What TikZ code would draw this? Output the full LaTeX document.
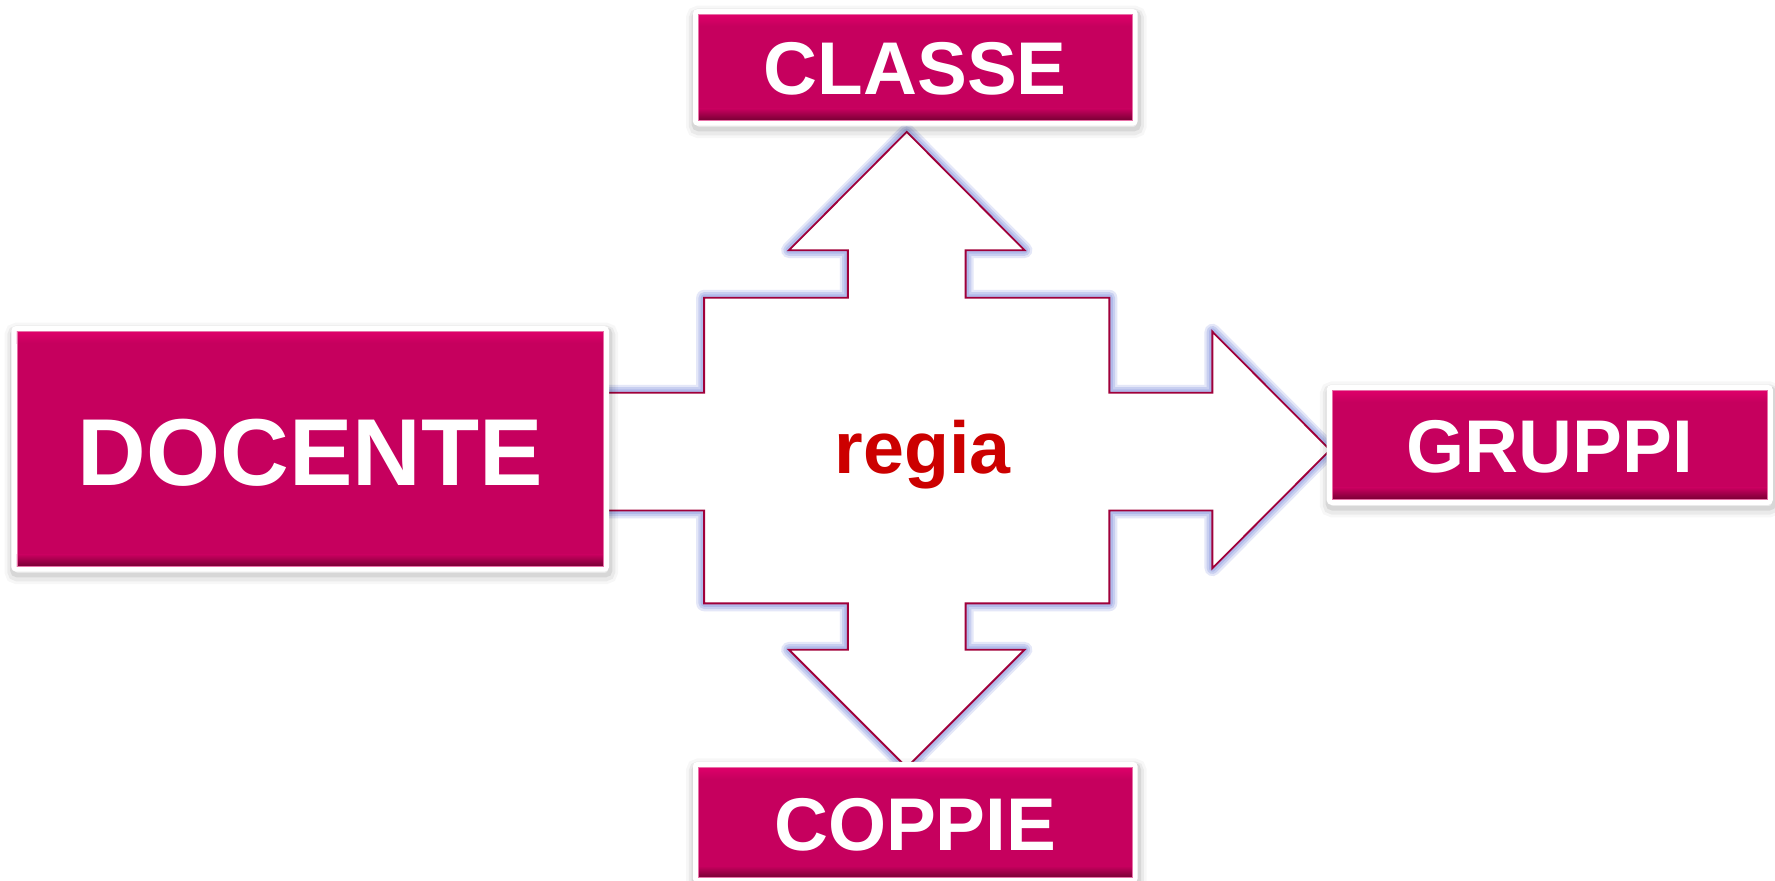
\documentclass[tikz,border=0pt]{standalone}
\usepackage{fontspec}
\setmainfont{Liberation Sans}
\usetikzlibrary{calc}
\definecolor{magbase}{HTML}{C6005E}
\definecolor{magtop}{HTML}{DE0069}
\definecolor{magbot}{HTML}{7A0035}
\definecolor{magedge}{HTML}{E870A8}
\definecolor{regiared}{HTML}{CC0000}
\definecolor{arrline}{HTML}{A0003A}
\definecolor{glowblue}{HTML}{A8B2E8}
\newcommand\tilefill{%
  \path (path picture bounding box.north west) ++(5pt,-5pt) coordinate (tnw);
  \path (path picture bounding box.south east) ++(-5pt,5pt) coordinate (tse);
  \fill[magbase, sharp corners] (tnw) rectangle (tse);
  \shade[top color=magtop, bottom color=magbase, sharp corners] (tnw) rectangle ($(tse|-tnw)+(0pt,-10pt)$);
  \shade[top color=magbase, bottom color=magbot, sharp corners] ($(tnw|-tse)+(0pt,10pt)$) rectangle (tse);
  \draw[magedge, line width=0.8pt, sharp corners] (tnw) rectangle (tse);
}
\newcommand\arrowpath{(530,347) -- (622,347) -- (622,263) -- (749,263) -- (749,221) -- (697,221) -- (801,116.5) -- (905,221) -- (853,221) -- (853,263) -- (980,263) -- (980,347) -- (1071,347) -- (1071,293) -- (1175,397.5) -- (1071,502) -- (1071,451) -- (980,451) -- (980,533) -- (853,533) -- (853,574) -- (905,574) -- (801,678) -- (697,574) -- (749,574) -- (749,533) -- (622,533) -- (622,451) -- (530,451) -- cycle}
\tikzset{
  tile/.style={fill=white, rounded corners=4pt, inner sep=0pt, outer sep=0pt,
    preaction={draw=black, line width=14pt, draw opacity=0.03, transform canvas={xshift=1pt,yshift=-4pt}},
    preaction={draw=black, line width=9pt, draw opacity=0.05, transform canvas={xshift=1pt,yshift=-4pt}},
    preaction={draw=black, line width=4pt, draw opacity=0.08, transform canvas={xshift=1pt,yshift=-3pt}},
    path picture={\tilefill}},
  tilelabel/.style={text=white, font=\bfseries\fontsize{66}{70}\selectfont, anchor=base, inner sep=0pt},
  biglabel/.style={tilelabel, font=\bfseries\fontsize{84}{90}\selectfont},
  regialabel/.style={text=regiared, font=\bfseries\fontsize{65}{70}\selectfont, anchor=base, inner sep=0pt},
  glow/.style={draw=glowblue, line join=round},
  arrowbody/.style={draw=arrline, line width=1.6pt, fill=white, line join=miter,
    preaction={glow, line width=14pt, draw opacity=0.3},
    preaction={glow, line width=10pt, draw opacity=0.45},
    preaction={glow, line width=6pt, draw opacity=0.7}},
}
\begin{document}
\begin{tikzpicture}[x=1pt, y=-1pt]
\useasboundingbox (0,0) rectangle (1568,778);
\fill[white] (0,0) rectangle (1568,778);
% block arrow
\draw[arrowbody] \arrowpath;
\node[regialabel] (regia) at (815,418) {regia};
% tiles
\node[tile, minimum width=393pt, minimum height=103pt] (classe) at (808.5,59.5) {};
\node[tilelabel] (classetxt) at ([yshift=-23.6pt]classe.center) {CLASSE};
\node[tile, minimum width=528pt, minimum height=217pt] (docente) at (274,396.5) {};
\node[biglabel] (docentetxt) at ([yshift=-32pt]docente.center) {DOCENTE};
\node[tile, minimum width=394pt, minimum height=106pt] (gruppi) at (1369,393) {};
\node[tilelabel] (gruppitxt) at ([yshift=-24pt]gruppi.center) {GRUPPI};
\node[tile, minimum width=393pt, minimum height=107pt] (coppie) at (808.5,726.5) {};
\node[tilelabel] (coppietxt) at ([yshift=-25pt]coppie.center) {COPPIE};
\end{tikzpicture}
\end{document}
